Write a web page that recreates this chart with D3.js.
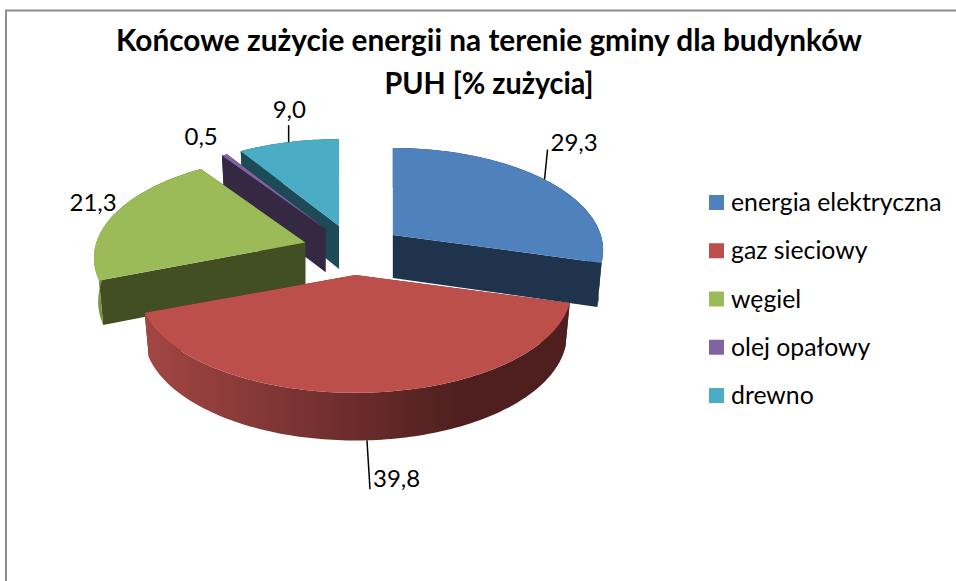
<!DOCTYPE html>
<html>
<head>
<meta charset="utf-8">
<script src="https://cdn.jsdelivr.net/npm/d3@7"></script>
<style>
html, body { margin: 0; padding: 0; background: #fff; overflow: hidden; }
svg { display: block; font-family: Lato, "Open Sans", sans-serif; }
</style>
</head>
<body>
<svg></svg>
<script>
// values
var categories = ["energia elektryczna", "gaz sieciowy", "węgiel", "olej opałowy", "drewno"];
var values = [29.3, 39.8, 21.3, 0.5, 9.0];
var valueLabels = ["29,3", "39,8", "21,3", "0,5", "9,0"];
var titleLines = ["Końcowe zużycie energii na terenie gminy dla budynków", "PUH [% zużycia]"];

var topColors = ["#4f81bd", "#bd4f4b", "#9bbb59", "#8064a2", "#4bacc6"];
var wallColors = ["#1f334d", "#4f1f1f", "#414f22", "#352842", "#1d4a57"];
var rimLeftColors = ["#1f334d", "#a34644", "#7d9a44", "#352842", "#1d4a57"];

var width = 956, height = 581;

// pie geometry
var cx = 353, cy = 250;
var rx = 210, ry = 100, persp = 0.151;	// front of each slice is drawn bigger
var explodeX = 50, explodeY = 25;
var depth = 43;

var svg = d3.select("svg")
	.attr("width", width)
	.attr("height", height);

// chart frame, runs off the right and bottom of the page
svg.append("path")
	.attr("d", "M6,581V10.5H956")
	.attr("fill", "none")
	.attr("stroke", "#8c8c8c")
	.attr("stroke-width", 2);

var pie = d3.pie().sort(null).value(d => d);
var arcs = pie(values).map((d, i) => {
	var mid = (d.startAngle + d.endAngle) / 2;
	var apexY = cy - explodeY * Math.cos(mid);
	return {
		i: i,
		a0: d.startAngle,
		a1: d.endAngle,
		mid: mid,
		apexX: cx + explodeX * Math.sin(mid),
		apexY: apexY,
		r: rx + (apexY - cy) * 0.14	// slices pushed back look a bit smaller
	};
});

// top of slice, angle measured clockwise from 12 o'clock
function topPoint(s, a) {
	var f = -Math.cos(a);
	var k = 1 / (1 - persp * f);
	return [s.apexX + s.r * Math.sin(a) * k, s.apexY + ry * f * k];
}

// same point on the bottom face
function bottomPoint(s, a) {
	var f = -Math.cos(a);
	var k = 1 / (1 - persp * f);
	return [s.apexX + 0.98 * s.r * Math.sin(a) * k, s.apexY + depth + 1.04 * ry * f * k];
}

function rimAngles(s) {
	var n = Math.max(2, Math.ceil((s.a1 - s.a0) / 0.02));
	return d3.range(n + 1).map(j => s.a0 + (s.a1 - s.a0) * j / n);
}

var line = d3.line();
var defs = svg.append("defs");

// horizontal shading of the rim
arcs.forEach(s => {
	var xs = rimAngles(s).map(a => topPoint(s, a)[0]);
	var g = defs.append("linearGradient")
		.attr("id", "rim" + s.i)
		.attr("gradientUnits", "userSpaceOnUse")
		.attr("x1", d3.min(xs))
		.attr("x2", d3.max(xs))
		.attr("y1", 0)
		.attr("y2", 0);
	g.append("stop").attr("offset", "0%").attr("stop-color", rimLeftColors[s.i]);
	g.append("stop").attr("offset", "74%").attr("stop-color", wallColors[s.i]);
	g.append("stop").attr("offset", "100%").attr("stop-color", wallColors[s.i]);
});

// back to front
var drawOrder = [4, 3, 2, 0, 1];
var slices = svg.selectAll("g.slice")
	.data(drawOrder.map(i => arcs[i]))
	.enter()
	.append("g")
	.classed("slice", true);

// cut faces first, the rim has to sit over them
[s => s.a0, s => s.a1].forEach(edge => {
	slices.append("path")
		.attr("d", s => line([
			[s.apexX, s.apexY],
			topPoint(s, edge(s)),
			bottomPoint(s, edge(s)),
			[s.apexX, s.apexY + depth]
		]) + "Z")
		.attr("fill", s => wallColors[s.i]);
});

slices.append("path")
	.attr("d", s => {
		var angles = rimAngles(s);
		var pts = angles.map(a => topPoint(s, a))
			.concat(angles.slice().reverse().map(a => bottomPoint(s, a)));
		return line(pts) + "Z";
	})
	.attr("fill", s => "url(#rim" + s.i + ")");

slices.append("path")
	.attr("d", s => line([[s.apexX, s.apexY]].concat(rimAngles(s).map(a => topPoint(s, a)))) + "Z")
	.attr("fill", s => topColors[s.i]);

// data labels: where the label goes relative to the rim at mid angle
var labelDx = [6, 6, -45, -40, -16];
var labelDy = [-37, 38, -11, -18, -33];
var leaderEnd = [[3, -30], [3, 49], null, null, [0, -17]];

arcs.forEach(s => {
	var p = s.i == 1 ? bottomPoint(s, s.mid) : topPoint(s, s.mid);
	if (leaderEnd[s.i]) {
		svg.append("line")
			.attr("x1", p[0])
			.attr("y1", p[1])
			.attr("x2", p[0] + leaderEnd[s.i][0])
			.attr("y2", p[1] + leaderEnd[s.i][1])
			.attr("stroke", "#000")
			.attr("stroke-width", 1.5);
	}
	svg.append("text")
		.attr("x", p[0] + labelDx[s.i])
		.attr("y", p[1] + labelDy[s.i])
		.attr("dy", "0.35em")
		.style("font-size", "24px")
		.style("fill", "#000")
		.text(valueLabels[s.i]);
});

// title, squeezed to the width it has in the original
var titleWidths = [746, 209];
svg.selectAll("text.title")
	.data(titleLines)
	.enter()
	.append("text")
	.classed("title", true)
	.attr("x", 489)
	.attr("y", (d, i) => 51 + i * 43)
	.attr("textLength", (d, i) => titleWidths[i])
	.attr("lengthAdjust", "spacingAndGlyphs")
	.style("text-anchor", "middle")
	.style("font-size", "31px")
	.style("font-weight", "bold")
	.style("fill", "#000")
	.text(d => d);

// legend
var legendY = d3.scalePoint().domain(categories).range([203, 396]);
var legend = svg.selectAll("g.legend")
	.data(categories)
	.enter()
	.append("g")
	.classed("legend", true)
	.attr("transform", d => `translate(709, ${legendY(d)})`);

legend.append("rect")
	.attr("y", -8)
	.attr("width", 15)
	.attr("height", 15)
	.attr("fill", (d, i) => topColors[i]);

legend.append("text")
	.attr("x", 22)
	.attr("dy", "0.33em")
	.style("font-size", "24.8px")
	.style("fill", "#000")
	.text(d => d);
</script>
</body>
</html>
